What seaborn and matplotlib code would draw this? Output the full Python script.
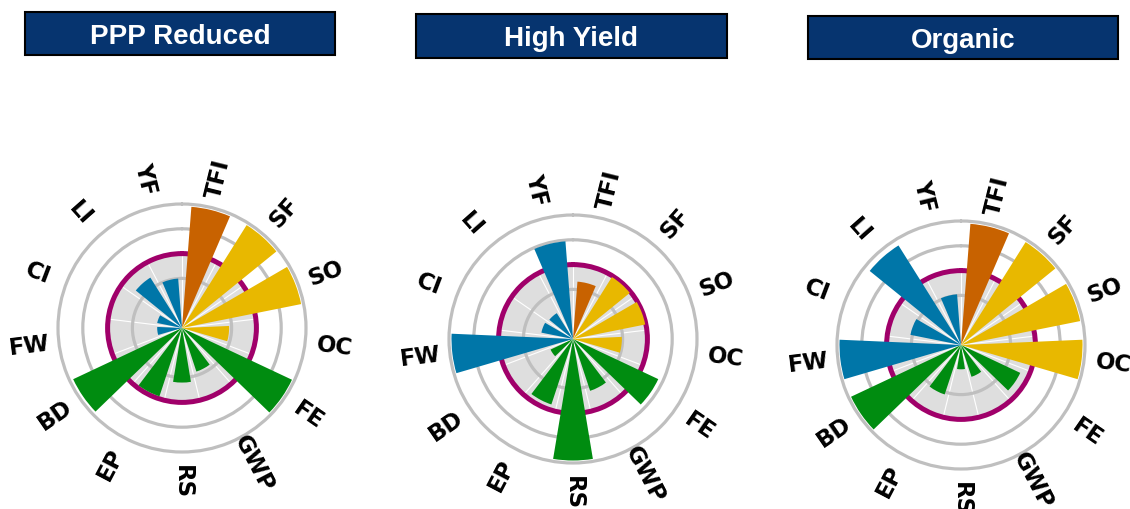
import numpy as np
import matplotlib
matplotlib.use("Agg")
import matplotlib.pyplot as plt
from matplotlib.patches import Rectangle
import seaborn as sns

# categories, clockwise from north
categories = ["TFI", "SF", "SO", "OC", "FE", "GWP", "RS", "EP", "BD", "FW", "CI", "LI", "YF"]
groups = ["orange", "yellow", "yellow", "yellow", "green", "green", "green", "green", "green",
          "blue", "blue", "blue", "blue"]

titles = ["PPP Reduced", "High Yield", "Organic"]
ppp_reduced = [4.9, 4.9, 4.9, 1.9, 4.9, 1.85, 2.2, 2.9, 4.85, 1.0, 1.02, 2.4, 2.0]
high_yield = [2.32, 2.95, 2.97, 1.97, 3.8, 2.2, 4.9, 2.78, 1.0, 4.9, 1.3, 1.23, 3.95]
organic = [4.9, 4.9, 4.9, 4.9, 2.64, 1.35, 0.98, 2.1, 4.9, 4.9, 2.08, 4.74, 2.05]
panel_values = [ppp_reduced, high_yield, organic]

palette = {"orange": "#C86200", "yellow": "#E8B800", "green": "#008C10", "blue": "#0076A8"}

sns.set_style("white")

fig = plt.figure(figsize=(11.3, 5.09), dpi=100)
W, H = 1130, 509
unit = 24.8          # pixels per radial unit
rmax = 5.2
centers = [(182, 328), (573, 339), (961, 345)]
title_boxes = [(25, 12, 310, 43), (416, 14, 311, 44), (808, 16, 310, 43)]

n = len(categories)
step = 2 * np.pi / n
theta = (np.arange(n) + 0.5) * step

for k, (title, vals) in enumerate(zip(titles, panel_values)):
    cx, cy = centers[k]
    rad = rmax * unit
    ax = fig.add_axes([(cx - rad) / W, (H - cy - rad) / H, 2 * rad / W, 2 * rad / H],
                      projection="polar")
    ax.set_theta_zero_location("N")
    ax.set_theta_direction(-1)
    ax.set_axisbelow(True)

    # grey inner disk and white sector lines
    tt = np.linspace(0, 2 * np.pi, 300)
    ax.fill_between(tt, 0, 3, color="#DEDEDE", zorder=0.1, lw=0)
    ax.vlines(np.arange(n) * step, 0, 3, color="white", lw=0.8, zorder=0.2)

    sns.barplot(x=list(theta), y=vals, hue=groups, palette=palette, native_scale=True,
                dodge=False, width=0.68, saturation=1, errorbar=None, legend=False,
                orient="x", linewidth=0, ax=ax, zorder=2)

    ax.set_ylim(0, rmax)
    ax.set_xlim(0, 2 * np.pi)
    ax.set_yticks([2, 3, 4, 5])
    ax.set_yticklabels([])
    ax.set_xticks([])
    ax.xaxis.grid(False)
    ax.yaxis.grid(True, color="#BFBFBF", lw=2.3)
    gl = ax.yaxis.get_gridlines()
    gl[1].set_color("#A0006A")
    gl[1].set_linewidth(3.6)
    ax.spines["polar"].set_visible(False)
    ax.set_xlabel("")
    ax.set_ylabel("")

    for th, lab in zip(theta, categories):
        a = np.degrees(th)
        rot = 90 - a
        rot = (rot + 180) % 360 - 180
        if rot > 90:
            rot -= 180
        elif rot < -90:
            rot += 180
        ax.text(th, 6.2, lab, rotation=rot, rotation_mode="anchor", ha="center", va="center",
                fontsize=16.5, fontweight="bold", family="DejaVu Sans", color="black",
                clip_on=False)

    bx, by, bw, bh = title_boxes[k]
    fig.patches.append(Rectangle((bx / W, 1 - (by + bh) / H), bw / W, bh / H,
                                 transform=fig.transFigure, facecolor="#06346F",
                                 edgecolor="black", lw=1.5))
    fig.text((bx + bw / 2) / W, 1 - (by + 31.5) / H, title, color="white",
             fontsize=20, fontweight="bold", family="Liberation Sans",
             ha="center", va="baseline")

fig.savefig("out.png", dpi=100)
